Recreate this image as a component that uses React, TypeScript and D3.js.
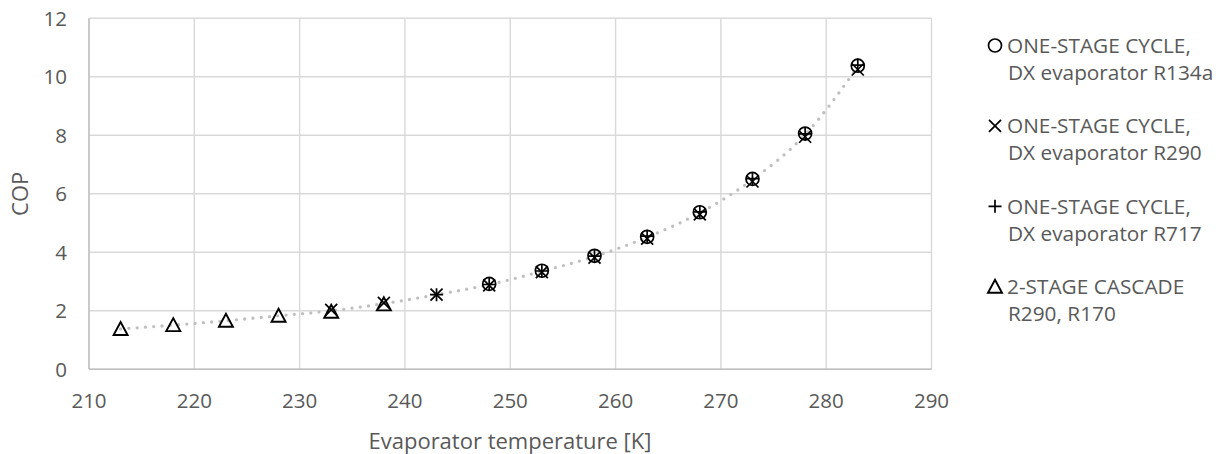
import React from "react";
import * as d3 from "d3";

const tempsCascade = [213, 218, 223, 228, 233, 238];
const copCascade = [1.38, 1.51, 1.66, 1.83, 1.97, 2.22];

const tempsR290 = [233, 238, 243, 248, 253, 258, 263, 268, 273, 278, 283];
const copR290 = [2.03, 2.27, 2.55, 2.87, 3.32, 3.82, 4.47, 5.3, 6.42, 7.95, 10.25];

const tempsR717 = [243, 248, 253, 258, 263, 268, 273, 278, 283];
const copR717 = [2.55, 2.9, 3.36, 3.87, 4.55, 5.38, 6.52, 8.05, 10.4];

const tempsR134a = [248, 253, 258, 263, 268, 273, 278, 283];
const copR134a = [2.92, 3.37, 3.88, 4.53, 5.37, 6.51, 8.06, 10.38];

const xTicks = [210, 220, 230, 240, 250, 260, 270, 280, 290];
const yTicks = [0, 2, 4, 6, 8, 10, 12];

const legendLabels = [
  ["ONE-STAGE CYCLE,", "DX evaporator R134a"],
  ["ONE-STAGE CYCLE,", "DX evaporator R290"],
  ["ONE-STAGE CYCLE,", "DX evaporator R717"],
  ["2-STAGE CASCADE", "R290, R170"],
];

const W = 1220;
const H = 454;
const left = 89;
const right = 931.5;
const top = 18.3;
const bottom = 369.3;
const FONT = "'Open Sans', Calibri, sans-serif";
const TXT = "#595959";

type Kind = "circle" | "x" | "plus" | "tri";

function Marker({ kind, cx, cy }: { kind: Kind; cx: number; cy: number }) {
  const s = { stroke: "#000", strokeWidth: 1.7, fill: "none" } as const;
  if (kind === "circle") return <circle cx={cx} cy={cy} r={6.5} {...s} />;
  if (kind === "x")
    return (
      <path d={`M${cx - 6},${cy - 6}L${cx + 6},${cy + 6}M${cx - 6},${cy + 6}L${cx + 6},${cy - 6}`} {...s} />
    );
  if (kind === "plus")
    return <path d={`M${cx - 6.5},${cy}L${cx + 6.5},${cy}M${cx},${cy - 6.5}L${cx},${cy + 6.5}`} {...s} />;
  return <path d={`M${cx},${cy - 7}L${cx + 7},${cy + 6}L${cx - 7},${cy + 6}Z`} {...s} strokeWidth={1.9} />;
}

export default function App() {
  const x = d3.scaleLinear().domain([210, 290]).range([left, right]);
  const y = d3.scaleLinear().domain([0, 12]).range([bottom, top]);

  const series: { kind: Kind; t: number[]; v: number[] }[] = [
    { kind: "tri", t: tempsCascade, v: copCascade },
    { kind: "x", t: tempsR290, v: copR290 },
    { kind: "plus", t: tempsR717, v: copR717 },
    { kind: "circle", t: tempsR134a, v: copR134a },
  ];

  const all: [number, number][] = [];
  series.forEach((s) => s.t.forEach((t, i) => all.push([t, s.v[i]])));
  const grouped = d3.rollups(all, (g) => d3.mean(g, (d) => d[1]) as number, (d) => d[0]).sort((a, b) => a[0] - b[0]);
  const trend = d3
    .line<[number, number]>()
    .x((d) => x(d[0]))
    .y((d) => y(d[1]))
    .curve(d3.curveMonotoneX)(grouped as [number, number][]);

  return (
    <svg width={W} height={H} style={{ display: "block", position: "absolute", left: 0, top: 0 }} fontFamily={FONT}>
      <rect width={W} height={H} fill="#fff" />
      {yTicks.map((t) => (
        <line key={"gy" + t} x1={left} x2={right} y1={y(t)} y2={y(t)} stroke="#d9d9d9" strokeWidth={1.4} />
      ))}
      {xTicks.map((t) => (
        <line key={"gx" + t} x1={x(t)} x2={x(t)} y1={top} y2={bottom} stroke="#d9d9d9" strokeWidth={1.4} />
      ))}
      <line x1={left} x2={left} y1={top} y2={bottom} stroke="#bfbfbf" strokeWidth={1.4} />
      <line x1={left} x2={right} y1={bottom} y2={bottom} stroke="#bfbfbf" strokeWidth={1.4} />
      {yTicks.map((t) => (
        <text key={"ty" + t} x={67} y={y(t)} dy="0.36em" textAnchor="end" fontSize={20.5} fill={TXT}>
          {t}
        </text>
      ))}
      {xTicks.map((t) => (
        <text key={"tx" + t} x={x(t)} y={401} dy="0.36em" textAnchor="middle" fontSize={20.5} fill={TXT}>
          {t}
        </text>
      ))}
      <text x={510} y={441} dy="0.36em" textAnchor="middle" fontSize={22} fill={TXT}>
        Evaporator temperature [K]
      </text>
      <text transform={`translate(20,${(top + bottom) / 2}) rotate(-90)`} dy="0.36em" textAnchor="middle" fontSize={22} fill={TXT}>
        COP
      </text>
      <path d={trend || ""} fill="none" stroke="#bfbfbf" strokeWidth={3.3} strokeDasharray="0 8.3" strokeLinecap="round" />
      {series.map((s) =>
        s.t.map((t, i) => <Marker key={s.kind + t} kind={s.kind} cx={x(t)} cy={y(s.v[i])} />)
      )}
      {legendLabels.map((lab, i) => {
        const ly = 45.5 + i * 80.4;
        const kinds: Kind[] = ["circle", "x", "plus", "tri"];
        return (
          <g key={"lg" + i}>
            <Marker kind={kinds[i]} cx={995} cy={ly} />
            <text x={1007} y={ly} dy="0.36em" fontSize={20.8} fill={TXT}>
              {lab[0]}
            </text>
            <text x={1008} y={ly + 27} dy="0.36em" fontSize={20.8} fill={TXT}>
              {lab[1]}
            </text>
          </g>
        );
      })}
    </svg>
  );
}
